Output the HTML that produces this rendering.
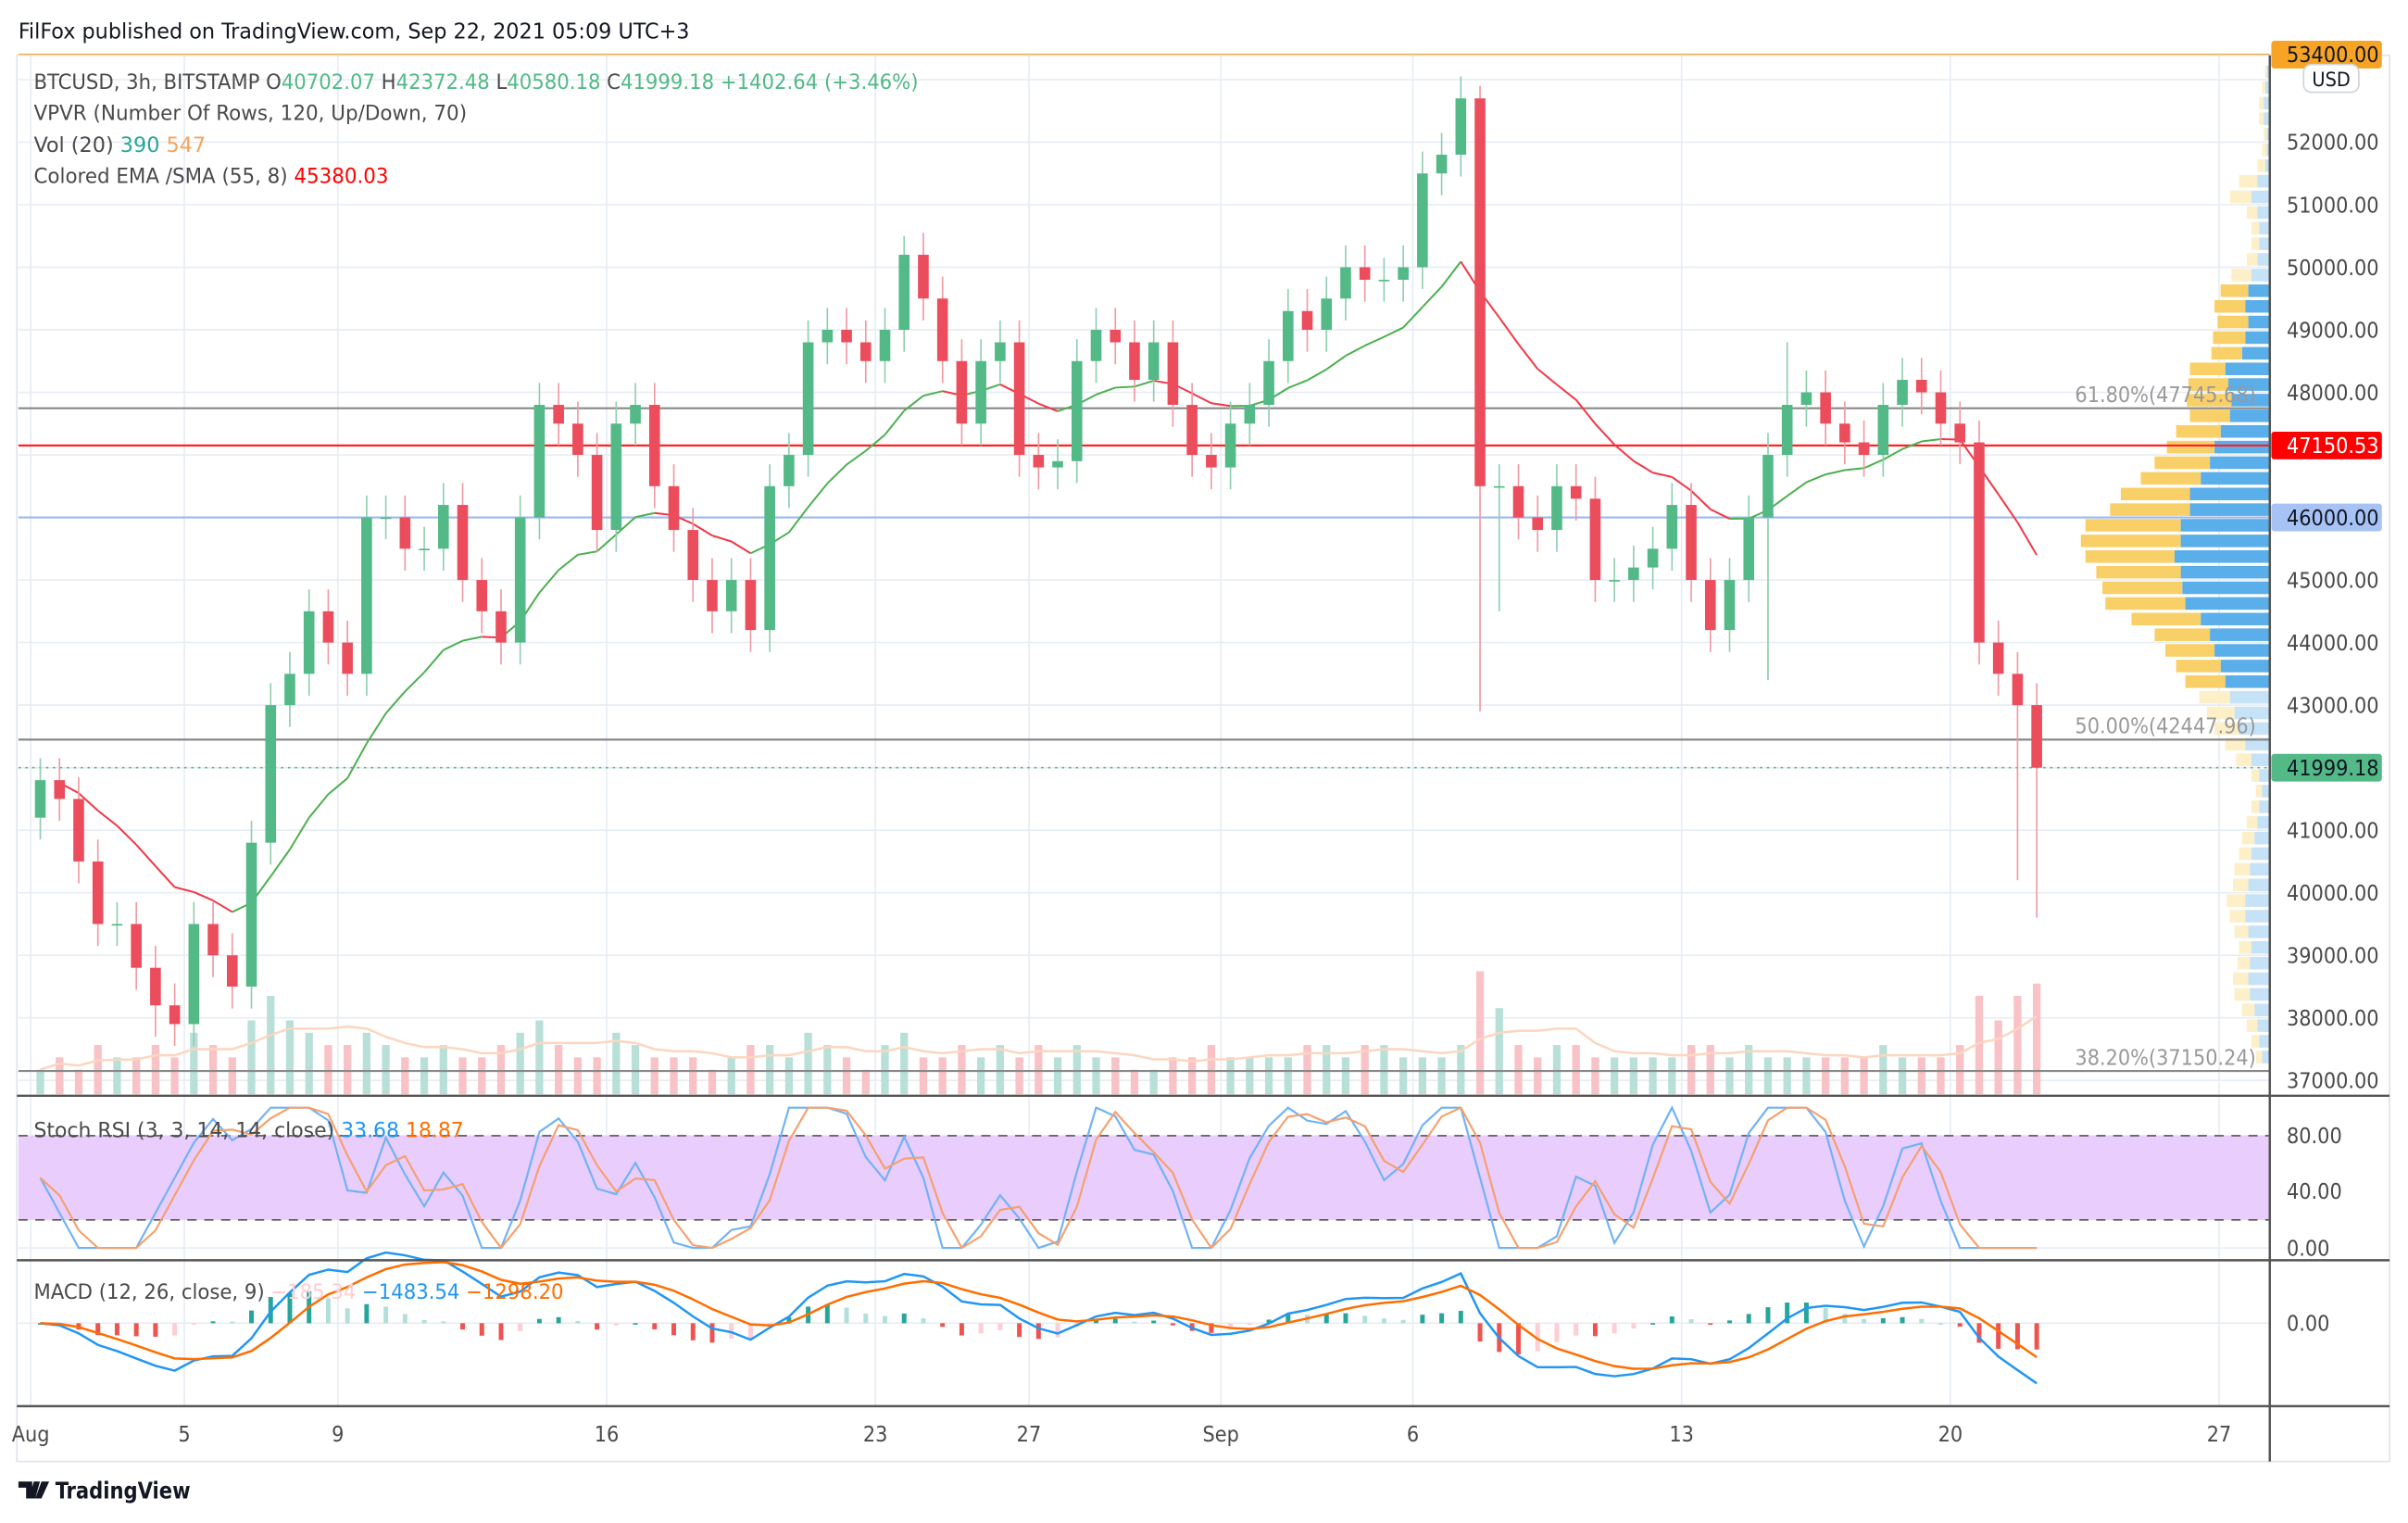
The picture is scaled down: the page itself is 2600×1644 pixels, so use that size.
<!DOCTYPE html>
<html><head><meta charset="utf-8"><style>
html,body{margin:0;padding:0;background:#fff;}
svg{display:block;}
text{font-family:"Liberation Sans Narrow","DejaVu Sans Condensed","Liberation Sans",sans-serif;}
</style></head><body>
<svg id="chart" width="2600" height="1644" viewBox="0 0 1568 991" preserveAspectRatio="none" xmlns="http://www.w3.org/2000/svg">
<rect x="0" y="0" width="1568" height="991" fill="#fff"/>
<g id="grid"></g>
<g id="vp"></g>
<g id="vol"></g>
<g id="lines"></g>
<g id="ema"></g>
<g id="candles"></g>
<g id="stoch"></g>
<g id="macd"></g>
<g id="axes"></g>
<text x="12" y="25" font-size="14" fill="#131722" textLength="437" lengthAdjust="spacingAndGlyphs">FilFox published on TradingView.com, Sep 22, 2021 05:09 UTC+3</text>
<text x="22" y="58" font-size="13.5" fill="#4a4a4a" textLength="576" lengthAdjust="spacingAndGlyphs">BTCUSD, 3h, BITSTAMP  O<tspan fill="#53b987">40702.07</tspan>  H<tspan fill="#53b987">42372.48</tspan>  L<tspan fill="#53b987">40580.18</tspan>  C<tspan fill="#53b987">41999.18  +1402.64 (+3.46%)</tspan></text>
<text x="22" y="78" font-size="13.5" fill="#4a4a4a" textLength="282" lengthAdjust="spacingAndGlyphs">VPVR (Number Of Rows, 120, Up/Down, 70)</text>
<text x="22" y="99" font-size="13.5" fill="#4a4a4a" textLength="112" lengthAdjust="spacingAndGlyphs">Vol (20)  <tspan fill="#26a69a">390</tspan>  <tspan fill="#f7a35c">547</tspan></text>
<text x="22" y="119" font-size="13.5" fill="#4a4a4a" textLength="231" lengthAdjust="spacingAndGlyphs">Colored EMA /SMA (55, 8)  <tspan fill="#f00">45380.03</tspan></text>
<text x="22" y="740" font-size="13.5" fill="#4a4a4a" textLength="280" lengthAdjust="spacingAndGlyphs">Stoch RSI (3, 3, 14, 14, close)  <tspan fill="#2196f3">33.68</tspan>  <tspan fill="#ff6d00">18.87</tspan></text>
<text x="22" y="845" font-size="13.5" fill="#4a4a4a" textLength="345" lengthAdjust="spacingAndGlyphs">MACD (12, 26, close, 9)  <tspan fill="#ffcdd2">−185.34</tspan>  <tspan fill="#2196f3">−1483.54</tspan>  <tspan fill="#ff6d00">−1298.20</tspan></text>
<g><path d="M12 964h9v11h-4v-7h-5z M22 964h4l-3 11h-4z M27 964h5l-5 11h-4z" fill="#131722"/><text x="36" y="975" font-size="15" fill="#131722" font-weight="bold" textLength="88" lengthAdjust="spacingAndGlyphs">TradingView</text></g>
</svg>
<script>
// ---- data ----
const firstOpen = 41200;
const closes = [41800,41500, 40500,39500, 39500,38800, 38200,37900, 39500,39000, 38500,40800, 43000,43500, 44500,44000, 43500,46000, 46000,45500, 45500,46200, 45000,44500, 44000,46000, 47800,47500, 47000,45800, 47500,47800, 46500,45800, 45000,44500, 45000,44200, 46500,47000, 48800,49000, 48800,48500, 49000,50200, 49500,48500, 47500,48500, 48800,47000, 46800,46900, 48500,49000, 48800,48200, 48800,47800, 47000,46800,
 47500,47800, 48500,49300, 49000,49500, 50000,49800, 49800,50000, 51500,51800, 52700,46500, 46500,46000, 45800,46500, 46300,45000, 45000,45200, 45500,46200, 45000,44200, 45000,46000, 47000,47800, 48000,47500, 47200,47000, 47800,48200, 48000,47500, 47200,44000, 43500,43000, 41999];
const lowSpikes = {75:42900, 103:40200, 104:39600, 76:44500, 6:37700, 90:43400};
const highSpikes = {75:52900, 45:50500, 91:48800};
const volumes = [2,3,2,4,3,3,4,3,5,4,3,6,8,6,5,4,4,5,4,3,3,4,3,3,4,5,6,4,3,3,5,4,3,3,3,2,3,4,4,3,5,4,3,2,4,5,3,3,4,3,4,3,4,3,4,3,3,2,2,3,3,4,3,3,
 3,3,4,4,3,4,4,3,3,3,4,10,7,4,3,4,4,3,3,3,3,3,4,4,3,4,3,3,3,3,3,3,4,3,3,3,4,8,6,8,9];
const vpRowTop = 53000, vpRowStep = 250;
const vpDown = [2,3,4,4,2,2,3,8,12,8,7,7,8,12,14,16,14,16,18,29,27,25,26,32,36,39,45,52,52,58,58,62,58,57,55,45,39,36,32,29,26,23,20,16,12,7,5,7,8,10,12,13,14,16,16,14,12,13,14,13,10,8,7,5];
const vpUp = [1,2,3,3,2,3,5,12,14,7,5,5,7,13,18,20,20,21,20,23,26,29,26,29,31,36,39,45,52,62,65,58,55,52,52,45,36,32,29,26,20,18,16,13,10,5,4,5,7,8,8,10,10,12,10,9,8,8,10,10,8,7,5,4];
const priceTicks = [53000,52000,51000,50000,49000,48000,47000,46000,45000,44000,43000,42000,41000,40000,39000,38000,37000];
const dateTicks = [[0,'Aug'],[4,'5'],[8,'9'],[15,'16'],[22,'23'],[26,'27'],[31,'Sep'],[36,'6'],[43,'13'],[50,'20'],[57,'27']];
const levels = [[53400,'#f7a325',''],[47745.68,'#888','61.80%(47745.68)'],[47150.53,'#f22',''],[46000,'#9bb8f0',''],[42447.96,'#888','50.00%(42447.96)'],[37150.24,'#888','38.20%(37150.24)']];

// ---- scales ----
const NS='http://www.w3.org/2000/svg';
const X0=12, X1=1478;
const xd = d => 20 + d*25;
const xi = i => xd(i*0.5 + 0.25) ;
const y = p => 703 - (p-37000)*0.0407;
function el(tag, attrs, parent){const e=document.createElementNS(NS,tag);for(const k in attrs)e.setAttribute(k,attrs[k]);parent.appendChild(e);return e;}
const G = id => document.getElementById(id);

// grid
const grid=G('grid');
priceTicks.forEach(p=>{el('line',{x1:X0,x2:X1,y1:y(p),y2:y(p),stroke:'#e6edf4','stroke-width':1},grid);});
dateTicks.forEach(t=>{const x=xd(t[0]);el('line',{x1:x,x2:x,y1:36,y2:915,stroke:'#e6edf4','stroke-width':1},grid);});
[739,775,812].forEach(v=>el('line',{x1:X0,x2:X1,y1:v,y2:v,stroke:'#e6edf4'},grid));
el('line',{x1:X0,x2:X1,y1:861,y2:861,stroke:'#e6edf4'},grid);

// volume profile
const vp=G('vp');
vpDown.forEach((d,k)=>{
  const p = vpRowTop - k*vpRowStep;
  const pale = p>49500 || p<43200;
  const yt=y(p+vpRowStep)+1, h=Math.max(1,vpRowStep*0.0407-2);
  const r1=el('rect',{x:X1-d,y:yt,width:d,height:h,fill:pale?'#c6e2f7':'#5aaeea'},vp);
  
  
  const r2=el('rect',{x:X1-d-vpUp[k],y:yt,width:vpUp[k],height:h,fill:pale?'#fdefc8':'#f9d067'},vp);
  
  
});

// volume bars
const vol=G('vol');
closes.forEach((c,i)=>{
  const o=i?closes[i-1]:firstOpen; const up=c>=o;
  const h=volumes[i]*8;
  const r=el('rect',{x:xi(i)-2.5,y:712-h,width:5,height:h,fill:up?'#b8e0d9':'#f8c2c6'},vol);
  
  
});
{let pts=[];volumes.forEach((v,i)=>{const s=volumes.slice(Math.max(0,i-5),i+1);const a=s.reduce((a,b)=>a+b,0)/s.length;pts.push(xi(i)+','+(712-a*8));});
 el('polyline',{points:pts.join(' '),fill:'none',stroke:'#fcd6bf','stroke-width':1.5},vol);}

// price level lines
const lines=G('lines');
levels.forEach(l=>{
  const ln=el('line',{x1:X0,x2:X1,y1:y(l[0]),y2:y(l[0]),stroke:l[1],'stroke-width':1.3},lines);
  
  
  if(l[2]){const t=el('text',{x:1469,y:y(l[0])-4,'font-size':14,fill:'#999','text-anchor':'end'},lines);t.textContent=l[2];}
});
el('line',{x1:X0,x2:X1,y1:y(41999.18),y2:y(41999.18),stroke:'#53b987','stroke-dasharray':'1.5 3'},lines);

// EMA
const ema=G('ema'); {
  let e=closes[0], a=2/15, vals=[];
  closes.forEach(c=>{e=e+a*(c-e);vals.push(e);});
  for(let i=2;i<vals.length;i++){
    const c=vals[i]>=vals[i-1]?'#4caf50':'#f23645';
    el('line',{x1:xi(i-1),y1:y(vals[i-1]),x2:xi(i),y2:y(vals[i]),stroke:c,'stroke-width':1.2},ema);
  }
}

// candles
const cg=G('candles');
closes.forEach((c,i)=>{
  const o=i?closes[i-1]:firstOpen; const up=c>=o;
  const hi = highSpikes[i]||Math.max(o,c)+350, lo=lowSpikes[i]||Math.min(o,c)-350;
  const col=up?'#53b987':'#eb4d5c';
  const x=xi(i);
  el('line',{x1:x,x2:x,y1:y(hi),y2:y(lo),stroke:up?'#8fcfb0':'#f29aa3','stroke-width':1},cg);
  const b=el('rect',{x:x-3.5,y:y(Math.max(o,c)),width:7,height:Math.max(1,Math.abs(y(o)-y(c))),fill:col},cg);
  
  
});

// Stoch RSI
const st=G('stoch');
const sy=v=>812-v*0.9125;
el('rect',{x:X0,y:sy(80),width:X1-X0,height:sy(20)-sy(80),fill:'#e9cdfc'},st);
el('line',{x1:X0,x2:X1,y1:sy(80),y2:sy(80),stroke:'#555','stroke-dasharray':'6 5'},st);
el('line',{x1:X0,x2:X1,y1:sy(20),y2:sy(20),stroke:'#555','stroke-dasharray':'6 5'},st);
{
  const n=closes.length, rsi=[]; let ag=0,al=0;
  for(let i=0;i<n;i++){const d=i?closes[i]-closes[i-1]:0;const g=Math.max(d,0),l=Math.max(-d,0);ag=(ag*4+g)/5;al=(al*4+l)/5;rsi.push(al===0?100:100-100/(1+ag/al));}
  const sto=rsi.map((r,i)=>{const s=rsi.slice(Math.max(0,i-5),i+1);const mn=Math.min(...s),mx=Math.max(...s);return mx===mn?50:(r-mn)/(mx-mn)*100;});
  const sm=(arr)=>arr.map((v,i)=>{const s=arr.slice(Math.max(0,i-1),i+1);return s.reduce((a,b)=>a+b,0)/s.length;});
  const k=sm(sto), d=sm(k);
  el('polyline',{points:k.map((v,i)=>xi(i)+','+sy(v)).join(' '),fill:'none',stroke:'#6fb2f5','stroke-width':1.3},st);
  el('polyline',{points:d.map((v,i)=>xi(i)+','+sy(v)).join(' '),fill:'none',stroke:'#f5a06e','stroke-width':1.3},st);
}

// MACD
const mg=G('macd');
{
  const ema=(arr,p)=>{const a=2/(p+1);let e=arr[0];return arr.map(v=>e=e+a*(v-e));};
  const f=ema(closes,6), s=ema(closes,13);
  const m=f.map((v,i)=>v-s[i]); const sig=ema(m,5);
  const mx=Math.max(...m.map(Math.abs),...sig.map(Math.abs));
  const my=v=>861-v*(46/mx);
  m.forEach((v,i)=>{const h=v-sig[i];const prev=i?m[i-1]-sig[i-1]:0;
    const c=h>=0?(h>=prev?'#26a69a':'#b2dfdb'):(h<prev?'#ef5350':'#ffcdd2');
    const r=el('rect',{x:xi(i)-1.5,y:Math.min(my(h),861),width:3,height:Math.max(1,Math.abs(my(h)-861)),fill:c},mg);
    
    
  });
  el('polyline',{points:m.map((v,i)=>xi(i)+','+my(v)).join(' '),fill:'none',stroke:'#2196f3','stroke-width':1.5},mg);
  el('polyline',{points:sig.map((v,i)=>xi(i)+','+my(v)).join(' '),fill:'none',stroke:'#ff6d00','stroke-width':1.5},mg);
}

// axes
const ax=G('axes');
el('rect',{x:11,y:36,width:1545,height:915,fill:'none',stroke:'#e0e3eb'},ax);
[713,820,915].forEach(v=>el('line',{x1:11,x2:1556,y1:v,y2:v,stroke:'#555','stroke-width':1.5},ax));
el('line',{x1:1478,x2:1478,y1:36,y2:951,stroke:'#555','stroke-width':1.5},ax);
priceTicks.forEach(p=>{if(p===53000||p===47000||p===46000||p===42000)return;const t=el('text',{x:1489,y:y(p)+5,'font-size':14,fill:'#4a4a4a'},ax);t.textContent=p.toFixed(2);});
[[80,739],[40,775],[0,812]].forEach(a=>{const t=el('text',{x:1489,y:a[1]+5,'font-size':14,fill:'#4a4a4a'},ax);t.textContent=a[0].toFixed(2);});
{const t=el('text',{x:1489,y:866,'font-size':14,fill:'#4a4a4a'},ax);t.textContent='0.00';}
dateTicks.forEach(d=>{const t=el('text',{x:xd(d[0]),y:938,'font-size':14,fill:'#4a4a4a','text-anchor':'middle'},ax);t.textContent=d[1];});
function badge(p,bg,fg,label){el('rect',{x:1479,y:y(p)-9,width:72,height:18,rx:2,fill:bg},ax);const t=el('text',{x:1489,y:y(p)+5,'font-size':14,fill:fg},ax);t.textContent=label;}
badge(53400,'#f7a325','#131722','53400.00');
badge(47150.53,'#f00','#fff','47150.53');
badge(46000,'#a7c2f5','#131722','46000.00');
badge(41999.18,'#53b987','#131722','41999.18');
el('rect',{x:1500,y:42,width:36,height:18,rx:5,fill:'#fff',stroke:'#d1d4dc'},ax);
{const t=el('text',{x:1518,y:56,'font-size':13,fill:'#131722','text-anchor':'middle'},ax);t.textContent='USD';}
</script>
</body></html>
